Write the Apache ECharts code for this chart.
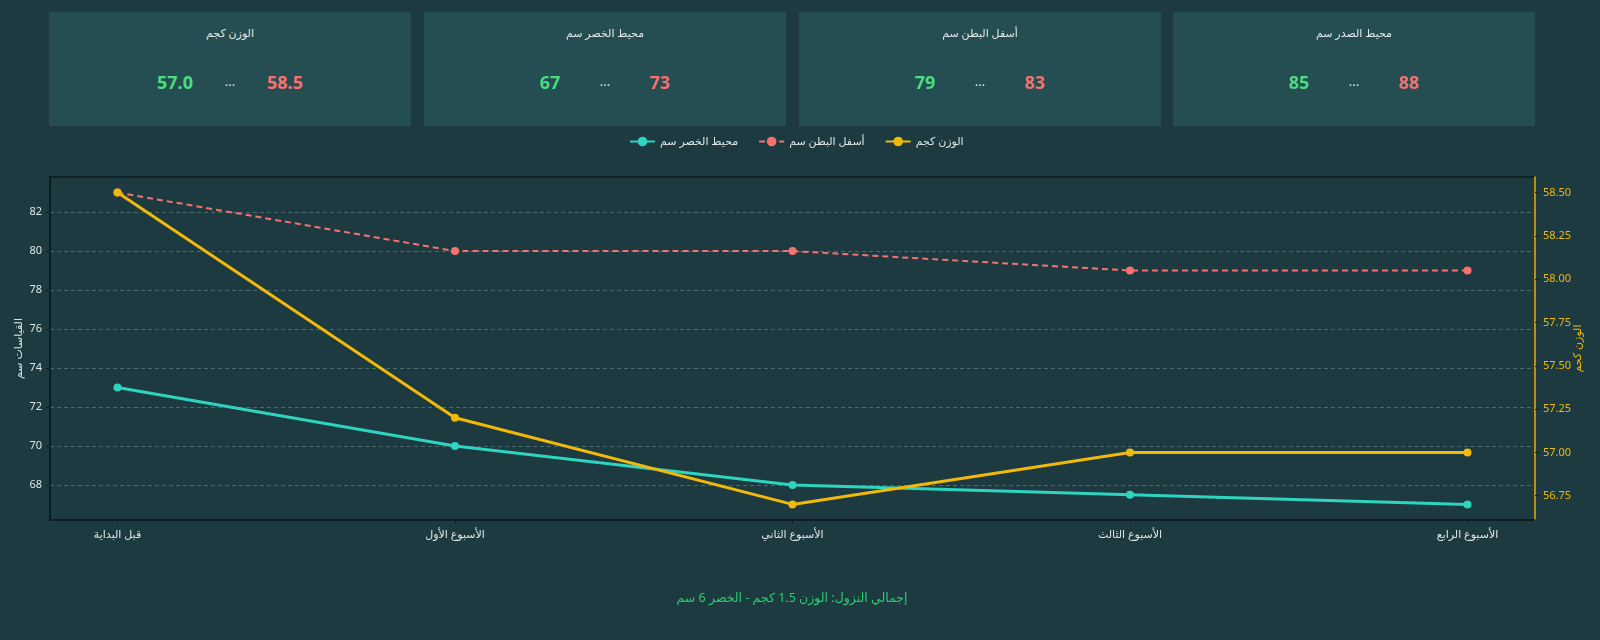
<!DOCTYPE html>
<html>
<head>
<meta charset="utf-8">
<script src="https://cdn.jsdelivr.net/npm/echarts@6/dist/echarts.min.js"></script>
<style>
  html, body { margin: 0; padding: 0; background: #1c3a40; }
  body { width: 1600px; height: 640px; position: relative; overflow: hidden;
         font-family: 'Noto Sans', 'DejaVu Sans', sans-serif; }
  #chart { position: absolute; left: 0; top: 0; width: 1600px; height: 640px; }
  .card { position: absolute; top: 12px; width: 362px; height: 114px; background: #254e53; }
  .card .t { position: absolute; top: 13px; width: 100%; text-align: center; font-size: 11px; color: #e3e9e9; }
  .card .v { position: absolute; top: 58px; font-size: 18px; font-weight: bold; transform: translateX(-50%); }
  .card .lo { color: #4ade80; left: 126px; }
  .card .dots { color: #e3e9e9; left: 181px; font-weight: normal; font-size: 13px; top: 60px; }
  .card .hi { color: #f87171; left: 236px; }
  #foot { position: absolute; top: 589px; left: 0; width: 1584px; text-align: center;
          font-size: 12.5px; color: #2ecc71; }
</style>
</head>
<body>
<div id="chart"></div>
<div id="cards"></div>
<div id="foot">إجمالي النزول: الوزن 1.5 كجم - الخصر 6 سم</div>
<script>
// الأسابيع
var weeks = ['قبل البداية', 'الأسبوع الأول', 'الأسبوع الثاني', 'الأسبوع الثالث', 'الأسبوع الرابع'];
var waist = [73, 70, 68, 67.5, 67];          // محيط الخصر سم
var lowerBelly = [83, 80, 80, 79, 79];       // أسفل البطن سم
var weight = [58.5, 57.2, 56.7, 57.0, 57.0]; // الوزن كجم
var leftTicks = [68, 70, 72, 74, 76, 78, 80, 82];
var rightTicks = [56.75, 57.00, 57.25, 57.50, 57.75, 58.00, 58.25, 58.50];

// بطاقات الملخص
var cardTitles = ['الوزن كجم', 'محيط الخصر سم', 'أسفل البطن سم', 'محيط الصدر سم'];
var cardLow = ['57.0', '67', '79', '85'];
var cardHigh = ['58.5', '73', '83', '88'];
var cardLeft = [49, 424, 799, 1173];

var html = '';
for (var i = 0; i < cardTitles.length; i++) {
    html += '<div class="card" style="left:' + cardLeft[i] + 'px">' +
        '<div class="t">' + cardTitles[i] + '</div>' +
        '<div class="v lo">' + cardLow[i] + '</div>' +
        '<div class="v dots">...</div>' +
        '<div class="v hi">' + cardHigh[i] + '</div>' +
        '</div>';
}
document.getElementById('cards').innerHTML = html;

function pairs(arr) {
    var out = [];
    for (var i = 0; i < arr.length; i++) out.push([i, arr[i]]);
    return out;
}

var txt = '#dfe6e6';
var dark = '#0c1e21';
var myChart = echarts.init(document.getElementById('chart'));
var option = {
    backgroundColor: 'transparent',
    textStyle: { fontFamily: "'Noto Sans', 'DejaVu Sans', sans-serif" },
    legend: {
        top: 131,
        left: 624,
        itemGap: 20,
        itemWidth: 25,
        itemHeight: 12,
        textStyle: { color: txt, fontSize: 11 },
        data: ['محيط الخصر سم', 'أسفل البطن سم', 'الوزن كجم']
    },
    grid: {
        left: 50, right: 65, top: 177, bottom: 120,
        show: true, borderColor: dark, borderWidth: 1.5, backgroundColor: 'transparent'
    },
    xAxis: {
        type: 'value',
        min: -0.2, max: 4.2,
        axisLine: { show: true, onZero: false, lineStyle: { color: dark, width: 1.5 } },
        axisTick: { show: true, customValues: [0, 1, 2, 3, 4], length: 4, lineStyle: { color: dark } },
        axisLabel: {
            customValues: [0, 1, 2, 3, 4],
            color: txt, fontSize: 11, margin: 9,
            formatter: function (v) { return weeks[Math.round(v)]; }
        },
        splitLine: { show: false }
    },
    yAxis: [
        {
            type: 'value',
            min: 66.2, max: 83.8,
            splitNumber: 9,
            name: 'القياسات سم',
            nameLocation: 'middle',
            nameGap: 26,
            nameMoveOverlap: false,
            nameTextStyle: { color: txt, fontSize: 11 },
            axisLine: { show: true, onZero: false, lineStyle: { color: dark, width: 1.5 } },
            axisTick: { show: true, customValues: leftTicks, length: 4, lineStyle: { color: dark } },
            axisLabel: { customValues: leftTicks, color: txt, fontSize: 11, margin: 8 },
            splitLine: { show: true, lineStyle: { color: '#4a6a6e', type: [4, 3], width: 1 } }
        },
        {
            type: 'value',
            min: 56.61, max: 58.59,
            position: 'right',
            name: 'الوزن كجم',
            nameLocation: 'middle',
            nameGap: 37,
            nameMoveOverlap: false,
            nameTextStyle: { color: '#f1b90a', fontSize: 11 },
            axisLine: { show: true, onZero: false, lineStyle: { color: '#f1b90a', width: 1.5 } },
            axisTick: { show: true, customValues: rightTicks, length: 4, lineStyle: { color: dark } },
            axisLabel: {
                customValues: rightTicks, color: '#f1b90a', fontSize: 11, margin: 8,
                formatter: function (v) { return v.toFixed(2); }
            },
            splitLine: { show: false }
        }
    ],
    series: [
        {
            name: 'محيط الخصر سم', type: 'line', yAxisIndex: 0,
            data: pairs(waist),
            symbol: 'circle', symbolSize: 8,
            itemStyle: { color: '#2dd4bf' },
            lineStyle: { width: 3, color: '#2dd4bf' }
        },
        {
            name: 'أسفل البطن سم', type: 'line', yAxisIndex: 0,
            data: pairs(lowerBelly),
            symbol: 'circle', symbolSize: 8,
            itemStyle: { color: '#f87171' },
            lineStyle: { width: 2, type: [6, 4], color: '#f87171' }
        },
        {
            name: 'الوزن كجم', type: 'line', yAxisIndex: 1,
            data: pairs(weight),
            symbol: 'circle', symbolSize: 8,
            itemStyle: { color: '#f1b90a' },
            lineStyle: { width: 3, color: '#f1b90a' }
        }
    ]
};
myChart.setOption(option);
</script>
</body>
</html>
